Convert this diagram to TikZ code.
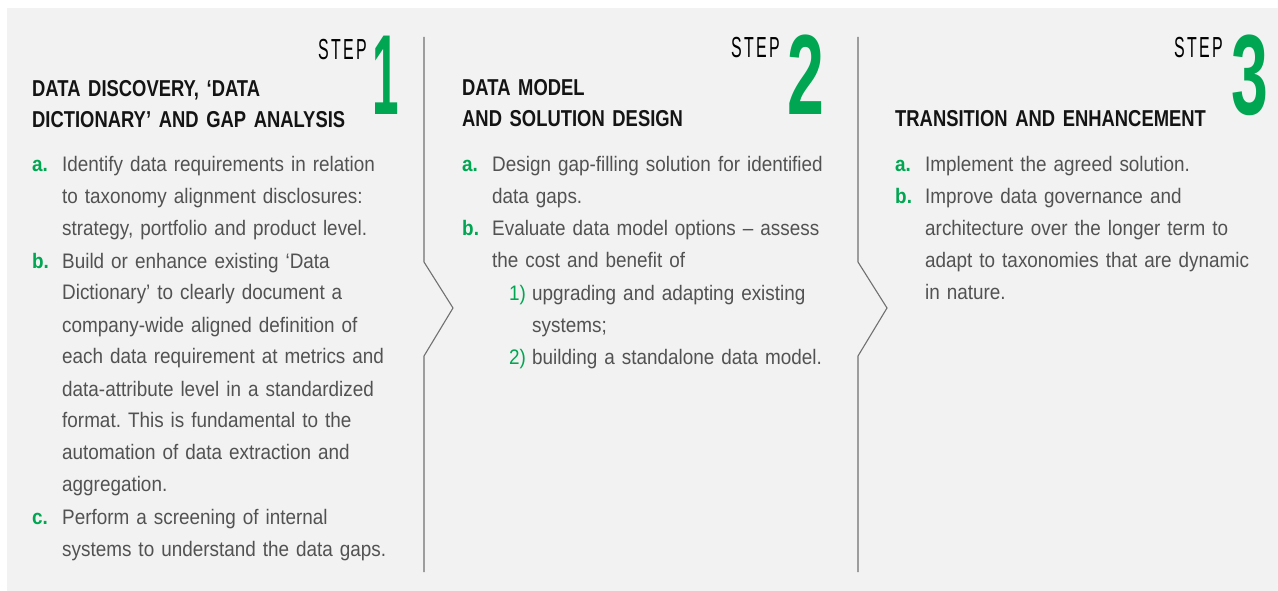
\documentclass[tikz,border=0pt]{standalone}
\usepackage{fontspec}
\setmainfont{Liberation Sans}[FakeStretch=0.9]
\newfontfamily\headfont{Liberation Sans}[FakeStretch=0.8]
\newfontfamily\stepfont{Liberation Sans}[FakeStretch=0.55, LetterSpace=8]
\newfontfamily\numfont{Liberation Sans}[FakeStretch=0.58]
\usetikzlibrary{positioning}
\definecolor{stepgreen}{HTML}{00A651}
\definecolor{panelgrey}{HTML}{F2F2F2}
\definecolor{bodygrey}{HTML}{525252}
\definecolor{rulegrey}{HTML}{707070}
\frenchspacing

\begin{document}
\begin{tikzpicture}[x=1pt, y=-1pt]
\tikzstyle{steplabel}=[anchor=base east, inner sep=0, text=black,
        font=\stepfont\fontsize{29}{29}\selectfont]
\tikzstyle{stepnum}=[anchor=base, inner sep=0, text=stepgreen,
        font=\numfont\bfseries\fontsize{114}{114}\selectfont]
\tikzstyle{title}=[anchor=base west, inner sep=0, text width=380pt, align=left,
        text=black!92, font=\headfont\bfseries\fontsize{23}{31}\selectfont]
\tikzstyle{tag}=[anchor=base west, inner sep=0, text=stepgreen,
        font=\bfseries\fontsize{21}{32}\selectfont]
\tikzstyle{subtag}=[anchor=base west, inner sep=0, text=stepgreen,
        font=\fontsize{21}{32}\selectfont]
\tikzstyle{item}=[anchor=base west, inner sep=0, text width=360pt, align=left,
        text=bodygrey, font=\fontsize{21}{32}\selectfont]
\tikzstyle{divider}=[draw=rulegrey, line width=1.1pt]

\def \la {32}
\def \ta {62}
\def \lb {462}
\def \tb {492}
\def \lc {895}
\def \tc {925}

\useasboundingbox (0,0) rectangle (1278,591);
\fill[panelgrey] (7,8) rectangle (1278,591);

% step 1
\node (step1) [steplabel] at (367,60) {STEP};
\node (num1) [stepnum, xscale=0.72, transform shape] at (386,115) {1};
\node (head1) [title] at (\la,97) {DATA DISCOVERY, ‘DATA\\
        DICTIONARY’ AND GAP ANALYSIS};
\node (tag1a) [tag] at (\la,172) {a.};
\node (item1a) [item] at (\ta,172) {Identify data requirements in relation\\
        to taxonomy alignment disclosures:\\
        strategy, portfolio and product level.};
\node (tag1b) [tag] at (\la,268) {b.};
\node (item1b) [item] at (\ta,268) {Build or enhance existing ‘Data\\
        Dictionary’ to clearly document a\\
        company-wide aligned definition of\\
        each data requirement at metrics and\\
        data-attribute level in a standardized\\
        format. This is fundamental to the\\
        automation of data extraction and\\
        aggregation.};
\node (tag1c) [tag] at (\la,524) {c.};
\node (item1c) [item] at (\ta,524) {Perform a screening of internal\\
        systems to understand the data gaps.};

% step 2
\node (step2) [steplabel] at (780,58) {STEP};
\node (num2) [stepnum] at (806,115) {2};
\node (head2) [title] at (\lb,96) {DATA MODEL\\
        AND SOLUTION DESIGN};
\node (tag2a) [tag] at (\lb,172) {a.};
\node (item2a) [item] at (\tb,172) {Design gap-filling solution for identified\\
        data gaps.};
\node (tag2b) [tag] at (\lb,236) {b.};
\node (item2b) [item] at (\tb,236) {Evaluate data model options -- assess\\
        the cost and benefit of};
\node (sub2a) [subtag] at (509,300) {1)};
\node (itemsub2a) [item] at (532,300) {upgrading and adapting existing\\
        systems;};
\node (sub2b) [subtag] at (509,364) {2)};
\node (itemsub2b) [item] at (532,364) {building a standalone data model.};

% step 3
\node (step3) [steplabel] at (1223,58) {STEP};
\node (num3) [stepnum] at (1250,115) {3};
\node (head3) [title] at (\lc,127) {TRANSITION AND ENHANCEMENT};
\node (tag3a) [tag] at (\lc,172) {a.};
\node (item3a) [item] at (\tc,172) {Implement the agreed solution.};
\node (tag3b) [tag] at (\lc,204) {b.};
\node (item3b) [item] at (\tc,204) {Improve data governance and\\
        architecture over the longer term to\\
        adapt to taxonomies that are dynamic\\
        in nature.};

% chevron dividers
\draw[divider] (424,37) -- (424,262) -- (453,308) -- (424,356) -- (424,572);
\draw[divider] (858,37) -- (858,262) -- (887,308) -- (858,356) -- (858,572);

\end{tikzpicture}
\end{document}
